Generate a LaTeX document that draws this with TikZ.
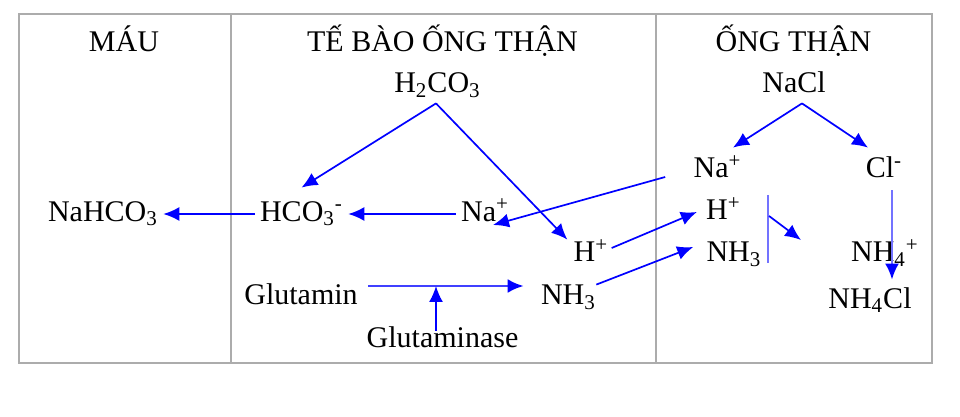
\documentclass[tikz,border=0pt]{standalone}
\usepackage{fontspec}
\setmainfont{Liberation Serif}
\usepackage{tikz}
\usetikzlibrary{arrows.meta}
\tikzstyle{chem} = [anchor=base, inner xsep=2.5pt, inner ysep=0pt, text height=10pt, text depth=3pt, font=\fontsize{15}{18}\selectfont]
\tikzstyle{connector} = [draw=blue, line width=0.85pt, -{Latex[length=8pt,width=7pt]}]
\tikzstyle{wideconnector} = [draw=blue!75, line width=1.4pt, -{Latex[length=8pt,width=7pt,color=blue]}]
\tikzstyle{paleline} = [draw=blue!55, line width=1.2pt]
\tikzstyle{grid} = [draw=gray!65, line width=1pt]

\begin{document}
\begin{tikzpicture}[x=0.5pt, y=-0.5pt]
                \useasboundingbox (0,0) rectangle (960,417);
                \draw [grid] (19,14) rectangle (932,363);
                \draw [grid] (231,14) -- (231,363);
                \draw [grid] (656,14) -- (656,363);

                \node (mau) [chem] at (124,52) {MÁU};
                \node (te) [chem] at (442.5,52) {TẾ BÀO ỐNG THẬN};
                \node (ong) [chem] at (793.5,52) {ỐNG THẬN};

                \node (h2co3) [chem] at (437.5,93) {H\textsubscript{2}CO\textsubscript{3}};
                \node (nacl) [chem] at (794,93) {NaCl};
                \node (nahco3) [chem] at (103,221) {NaHCO\textsubscript{3}};
                \node (hco3) [chem] at (301.5,221) {HCO\textsubscript{3}\textsuperscript{-}};
                \node (nac) [chem] at (485,221) {Na\textsuperscript{+}};
                \node (hc) [chem] at (591,262) {H\textsuperscript{+}};
                \node (nh3c) [chem] at (568.5,305) {NH\textsubscript{3}};
                \node (glu) [chem] at (301,305) {Glutamin};
                \node (gluase) [chem] at (442.5,348) {Glutaminase};
                \node (nat) [chem] at (717.5,178) {Na\textsuperscript{+}};
                \node (cl) [chem] at (884,178) {Cl\textsuperscript{-}};
                \node (ht) [chem] at (723.5,220) {H\textsuperscript{+}};
                \node (nh3t) [chem] at (734,262) {NH\textsubscript{3}};
                \node (nh4) [chem] at (885,262) {NH\textsubscript{4}\textsuperscript{+}};
                \node (nh4cl) [chem] at (870,308) {NH\textsubscript{4}Cl};

                \draw [connector] ([shift={(-1.5,4)}]h2co3.south) -- ([shift={(0,-13)}]hco3.north);
                \draw [connector] ([shift={(-1.5,4)}]h2co3.south) -- ([shift={(-1,-2)}]hc.north west);
                \draw [connector] (nac) -- (hco3);
                \draw [connector] (hco3) -- (nahco3);
                \draw [connector] ([shift={(-23,6)}]nat.west) -- ([shift={(8,4)}]nac.base);
                \draw [connector] ([shift={(-2,-7)}]hc.east) -- ([shift={(-4,-1)}]ht.west);
                \draw [connector] ([shift={(-5,0)}]nh3c.north east) -- ([shift={(-8,-8)}]nh3t.west);
                \draw [connector] ([shift={(8,4)}]nacl.south) -- ([shift={(15.5,-10)}]nat.north);
                \draw [connector] ([shift={(8,4)}]nacl.south) -- ([shift={(-16,-10)}]cl.north);
                \draw [paleline, -{Latex[length=8pt,width=7pt,color=blue]}] ([shift={(8,6)}]cl.south) -- ([shift={(22,-8)}]nh4cl.north);

                \draw [wideconnector] ([shift={(5,-12)}]glu.east) coordinate (g1) -- ([shift={(-12,-12)}]nh3c.west);
                \draw [connector] ([shift={(-6.5,3)}]gluase.north) coordinate (g2) -- (g2 |- g1);

                \coordinate (bartop) at (768,195);
                \coordinate (barbot) at (768,263);
                \coordinate (barmid) at (769,216);
                \draw [paleline] (bartop) -- (barbot);
                \draw [connector] (barmid) -- ++(32,24);
            \end{tikzpicture}
\end{document}
